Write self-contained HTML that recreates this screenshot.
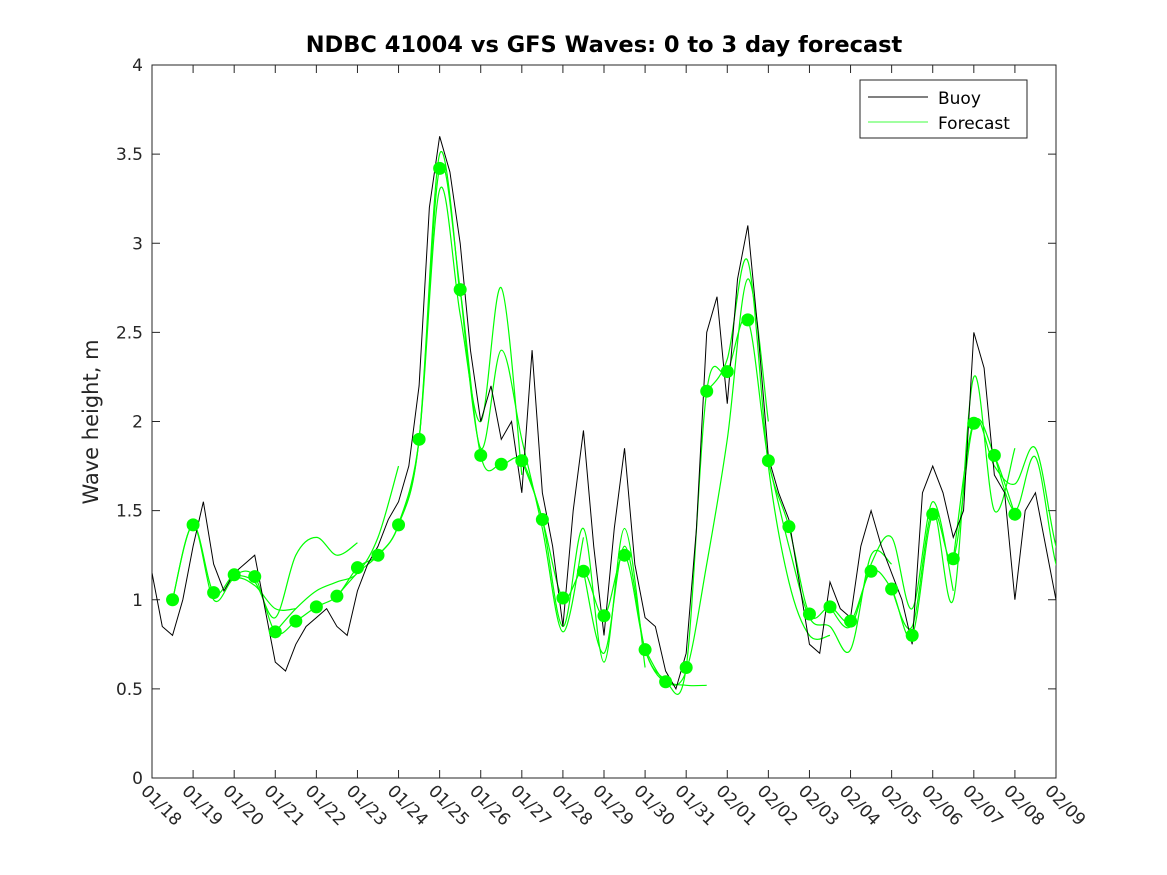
<!DOCTYPE html>
<html><head><meta charset="utf-8"><style>
body{margin:0;background:#fff;}
svg{display:block;font-family:"DejaVu Sans","Liberation Sans",sans-serif;}
</style></head><body>
<svg id="chart" width="1167" height="875" xmlns="http://www.w3.org/2000/svg">
<defs><clipPath id="clip"><rect x="152" y="65" width="904" height="713"/></clipPath></defs>
<rect width="1167" height="875" fill="#fff"/>
<text x="604" y="52" text-anchor="middle" font-size="22.5" font-weight="bold" fill="#000">NDBC 41004 vs GFS Waves: 0 to 3 day forecast</text>
<text transform="translate(98,422) rotate(-90)" text-anchor="middle" font-size="21" fill="#262626">Wave height, m</text>
<g id="plot"></g>
<g>
<rect x="860" y="80" width="167" height="58" fill="#fff" stroke="#262626" stroke-width="1"/>
<line x1="868" y1="97" x2="928" y2="97" stroke="#000" stroke-width="1"/>
<text x="938" y="104" font-size="17" fill="#000">Buoy</text>
<line x1="868" y1="122" x2="928" y2="122" stroke="#00ff00" stroke-width="0.7"/>
<text x="938" y="129" font-size="17" fill="#000">Forecast</text>
</g>
</svg>
<script>
const xTickLabels=["01/18","01/19","01/20","01/21","01/22","01/23","01/24","01/25","01/26","01/27","01/28","01/29","01/30","01/31","02/01","02/02","02/03","02/04","02/05","02/06","02/07","02/08","02/09"];
const yTicks=[0,0.5,1,1.5,2,2.5,3,3.5,4];
const buoyValues=[1.15,0.85,0.8,1.0,1.3,1.55,1.2,1.05,1.15,1.2,1.25,0.95,0.65,0.6,0.75,0.85,0.9,0.95,0.85,0.8,1.05,1.2,1.3,1.45,1.55,1.75,2.2,3.2,3.6,3.4,3.0,2.4,2.0,2.2,1.9,2.0,1.6,2.4,1.6,1.3,0.85,1.5,1.95,1.3,0.8,1.4,1.85,1.2,0.9,0.85,0.6,0.5,0.7,1.4,2.5,2.7,2.1,2.8,3.1,2.5,1.8,1.6,1.45,1.1,0.75,0.7,1.1,0.95,0.9,1.3,1.5,1.3,1.15,1.0,0.75,1.6,1.75,1.6,1.35,1.5,2.5,2.3,1.7,1.6,1.0,1.5,1.6,1.3,1.0];
const buoyStep=0.25;
const analysisDays=[0.5,1,1.5,2,2.5,3,3.5,4,4.5,5,5.5,6,6.5,7,7.5,8,8.5,9,9.5,10,10.5,11,11.5,12,12.5,13,13.5,14,14.5,15,15.5,16,16.5,17,17.5,18,18.5,19,19.5,20,20.5,21];
const analysisValues=[1.0,1.42,1.04,1.14,1.13,0.82,0.88,0.96,1.02,1.18,1.25,1.42,1.9,3.42,2.74,1.81,1.76,1.78,1.45,1.01,1.16,0.91,1.25,0.72,0.54,0.62,2.17,2.28,2.57,1.78,1.41,0.92,0.96,0.88,1.16,1.06,0.80,1.48,1.23,1.99,1.81,1.48];
const forecastStarts=[0.5,2.0,3.0,4.5,6.0,7.5,9.0,10.5,12.0,13.5,15.0,16.5,18.0,19.5,20.5];
const forecastValues=[
[1.0,1.42,1.0,1.12,1.08,0.95,0.95],
[1.14,1.1,0.9,1.25,1.35,1.25,1.32],
[0.82,0.95,1.05,1.1,1.15,1.35,1.75],
[1.02,1.15,1.25,1.42,1.9,3.5,2.7],
[1.42,1.9,3.3,2.6,2.0,2.75,1.7],
[2.74,1.85,2.4,1.9,1.4,0.82,1.35],
[1.78,1.45,0.85,1.4,0.65,1.4,0.62],
[1.16,0.7,1.3,0.72,0.55,0.52,0.52],
[0.72,0.54,0.6,1.2,1.9,2.8,2.0],
[2.17,2.35,2.9,1.75,1.1,0.8,0.8],
[1.78,1.3,0.9,0.85,0.72,1.25,1.2],
[0.96,0.85,1.2,1.35,0.95,1.55,1.05],
[1.06,0.85,1.5,1.0,2.25,1.5,1.85],
[1.23,2.0,1.75,1.65,1.85,1.3,0.95],
[1.81,1.5,1.8,1.2,0.95]];
const forecastStep=0.5;

const X0=152,X1=1056,Y0=778,Y1=65;
const xs=d=>X0+(X1-X0)*d/22;
const ys=v=>Y0-(Y0-Y1)*v/4;
const NS="http://www.w3.org/2000/svg";
const g=document.getElementById('plot');
function mk(t,a,parent){const e=document.createElementNS(NS,t);for(const k in a)e.setAttribute(k,a[k]);(parent||g).appendChild(e);return e;}
function smooth(pts){let d="M"+pts[0][0]+","+pts[0][1];for(let i=0;i<pts.length-1;i++){const p0=pts[i-1]||pts[i],p1=pts[i],p2=pts[i+1],p3=pts[i+2]||p2;d+=" C"+(p1[0]+(p2[0]-p0[0])/6)+","+(p1[1]+(p2[1]-p0[1])/6)+" "+(p2[0]-(p3[0]-p1[0])/6)+","+(p2[1]-(p3[1]-p1[1])/6)+" "+p2[0]+","+p2[1];}return d;}

let frame=mk('rect',{x:X0,y:Y1,width:X1-X0,height:Y0-Y1,fill:'none',stroke:'#262626','stroke-width':1});


yTicks.forEach(v=>{
 const y=ys(v);
 mk('line',{x1:X0,y1:y,x2:X0+8,y2:y,stroke:'#262626'});
 mk('line',{x1:X1,y1:y,x2:X1-8,y2:y,stroke:'#262626'});
 const t=mk('text',{x:X0-9,y:y+6,'text-anchor':'end','font-size':17,fill:'#262626'});
 t.textContent=String(v);
 
 
});
xTickLabels.forEach((s,i)=>{
 const x=xs(i);
 mk('line',{x1:x,y1:Y0,x2:x,y2:Y0-8,stroke:'#262626'});
 mk('line',{x1:x,y1:Y1,x2:x,y2:Y1+8,stroke:'#262626'});
 const t=mk('text',{transform:`translate(${x-12},${Y0+14}) rotate(45)`,'font-size':17,fill:'#262626'});
 t.textContent=s;
 
 
});
const cg=mk('g',{'clip-path':'url(#clip)'});
forecastValues.forEach((arr,j)=>{
 const pts=arr.map((v,i)=>[xs(forecastStarts[j]+i*forecastStep),ys(v)]);
 const p=mk('path',{d:smooth(pts),fill:'none',stroke:'#00ff00','stroke-width':1.2},cg);
 
 
});
const ap=analysisDays.map((d,i)=>[xs(d),ys(analysisValues[i])]);
const al=mk('path',{d:smooth(ap),fill:'none',stroke:'#00ff00','stroke-width':1.2},cg);


const bp=buoyValues.map((v,i)=>xs(i*buoyStep)+","+ys(v)).join(" ");
const bl=mk('polyline',{points:bp,fill:'none',stroke:'#000','stroke-width':1},cg);


analysisDays.forEach((d,i)=>{
 const c=mk('circle',{cx:xs(d),cy:ys(analysisValues[i]),r:6.5,fill:'#00ff00'});
 
 
});
</script>
</body></html>
